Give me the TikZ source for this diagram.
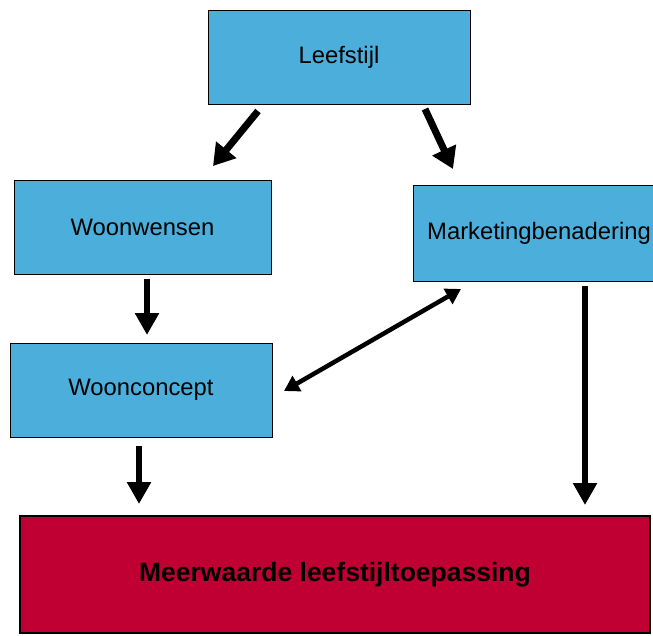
\documentclass[tikz,border=0pt]{standalone}
\usepackage{fontspec}
\setmainfont{Liberation Sans}
\usetikzlibrary{arrows.meta}
\definecolor{boxblue}{HTML}{4BAEDB}
\definecolor{boxred}{HTML}{C00032}
\tikzset{
  bluebox/.style={draw=black, line width=0.8pt, fill=boxblue, anchor=center, inner sep=0pt,
    font=\fontsize{23.8}{28}\selectfont},
  redbox/.style={draw=black, line width=2.5pt, fill=boxred, anchor=center, inner sep=0pt,
    font=\fontsize{26.5}{31}\selectfont\bfseries},
  bigarrow/.style={line width=7pt, -{Triangle[width=25pt,length=21pt]}},
  vertarrow/.style={line width=6pt, -{Triangle[width=23pt,length=22pt]}},
  duoarrow/.style={line width=4.5pt, {Triangle[width=17pt,length=15pt]}-{Triangle[width=17pt,length=15pt]}}
}
\begin{document}
\begin{tikzpicture}[x=1pt,y=-1pt]
\useasboundingbox (0,0) rectangle (653,635);
\clip (0,0) rectangle (653,635);
\fill[white] (0,0) rectangle (653,635);
\node[bluebox, minimum width=262pt, minimum height=94pt] (leef) at (339,57) {Leefstijl};
\node[bluebox, minimum width=257pt, minimum height=94pt] (wens) at (142.5,227) {Woonwensen};
\node[bluebox, minimum width=252pt, minimum height=96pt] (mark) at (539,233) {Marketingbenadering};
\node[bluebox, minimum width=262pt, minimum height=94pt] (conc) at (141,390) {Woonconcept};
\node[redbox, minimum width=630pt, minimum height=117pt] (meer) at (335,574.5) {Meerwaarde leefstijltoepassing};
\coordinate (a1s) at (258,111);
\coordinate (a1e) at (213,166);
\coordinate (a2s) at (425,109);
\coordinate (a2e) at (453,169);
\coordinate (a3s) at (147,279);
\coordinate (a3e) at (147,335);
\coordinate (a4s) at (139,446);
\coordinate (a4e) at (139,504);
\coordinate (a5s) at (585,286);
\coordinate (a5e) at (585,505);
\coordinate (d1) at (284,391);
\coordinate (d2) at (461,289);
\draw[bigarrow] (a1s) -- (a1e);
\draw[bigarrow] (a2s) -- (a2e);
\draw[vertarrow] (a3s) -- (a3e);
\draw[vertarrow] (a4s) -- (a4e);
\draw[vertarrow] (a5s) -- (a5e);
\draw[duoarrow] (d1) -- (d2);
\end{tikzpicture}
\end{document}
